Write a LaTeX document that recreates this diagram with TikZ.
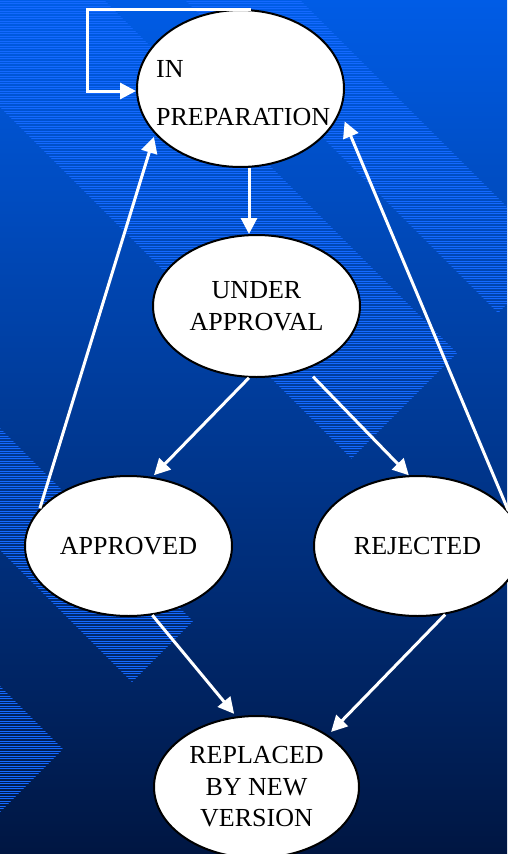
\documentclass[tikz,border=0pt]{standalone}
\usepackage{fontspec}
\setmainfont{Liberation Serif}
\usetikzlibrary{arrows.meta,shapes.geometric}
\definecolor{bgtop}{RGB}{0,92,230}
\definecolor{bgmid}{RGB}{0,64,168}
\definecolor{bgbot}{RGB}{0,22,66}
\definecolor{hatchblue}{RGB}{20,105,255}
\begin{document}
\begin{tikzpicture}[x=1pt,y=-1pt,
  state/.style={ellipse, draw=black, line width=2pt, fill=white, inner sep=0pt,
    align=center, font=\fontsize{26}{32}\selectfont, text=black},
  lbl/.style={font=\fontsize{26}{32}\selectfont, inner sep=0pt, text=black},
  arr/.style={draw=white, line width=3pt, -{Triangle[length=16pt,width=16pt]}},
  hatchline/.style={draw=hatchblue, line width=1pt}]
\useasboundingbox (0,0) rectangle (507,854);
\shade[top color=bgtop, middle color=bgmid, bottom color=bgbot] (0,0) rectangle (507,854);
\begin{scope}
  \clip (-150,-43) -- (351.5,458.5) -- (457,353) -- (-50,-154) -- cycle
        (135,-50) -- (498,313) -- (555.5,255.5) -- (250,-50) -- cycle
        (-100,328) -- (193,621) -- (132,682) -- (-100,450) -- cycle
        (-100,586) -- (63,749) -- (-9,821) -- (-100,730) -- cycle;
  \foreach \k in {0,...,341} \draw[hatchline] (0,\k*2.5+1) -- (507,\k*2.5+1);
\end{scope}
% states
\node[state, minimum width=207pt, minimum height=157pt] (prep) at (240.5,88.5) {};
\node[lbl, anchor=base west] (prepin) at (156,77) {IN};
\node[lbl, anchor=base west] (prepword) at (156,125) {PREPARATION};
\node[state, minimum width=207pt, minimum height=142pt] (ua) at (256.5,306) {UNDER\\APPROVAL};
\node[state, minimum width=207pt, minimum height=140pt] (appr) at (128.5,546) {APPROVED};
\node[state, minimum width=207pt, minimum height=140pt] (rej) at (417.5,546) {REJECTED};
\node[state, minimum width=205pt, minimum height=142pt, font=\fontsize{26}{31.5}\selectfont] (repl) at (256.5,787) {REPLACED\\BY NEW\\VERSION};
% connectors
\coordinate (loopc) at (87,9);
\draw[arr] ([xshift=10.5pt]prep.north) -- (loopc) |- ([yshift=-2.5pt]prep.west);
\draw[arr] ([xshift=8.5pt]prep.south) -- ([xshift=8.5pt]prep.south |- ua.north);
\draw[arr, shorten >=2.4pt] (ua.264.8) -- (appr.71.8);
\draw[arr, shorten <=10pt] (ua.-52.8) -- (rej.97.6);
\draw[arr, shorten >=3.3pt] (appr.-71.7) -- (repl.106.9);
\draw[arr, shorten >=4.3pt] (rej.-68.3) -- (repl.36.9);
\draw[arr, shorten >=3pt] (appr.157.5) -- (prep.208.9);
\draw[arr, shorten >=10.7pt] (rej.21.4) -- (prep.-13.9);
\end{tikzpicture}
\end{document}
